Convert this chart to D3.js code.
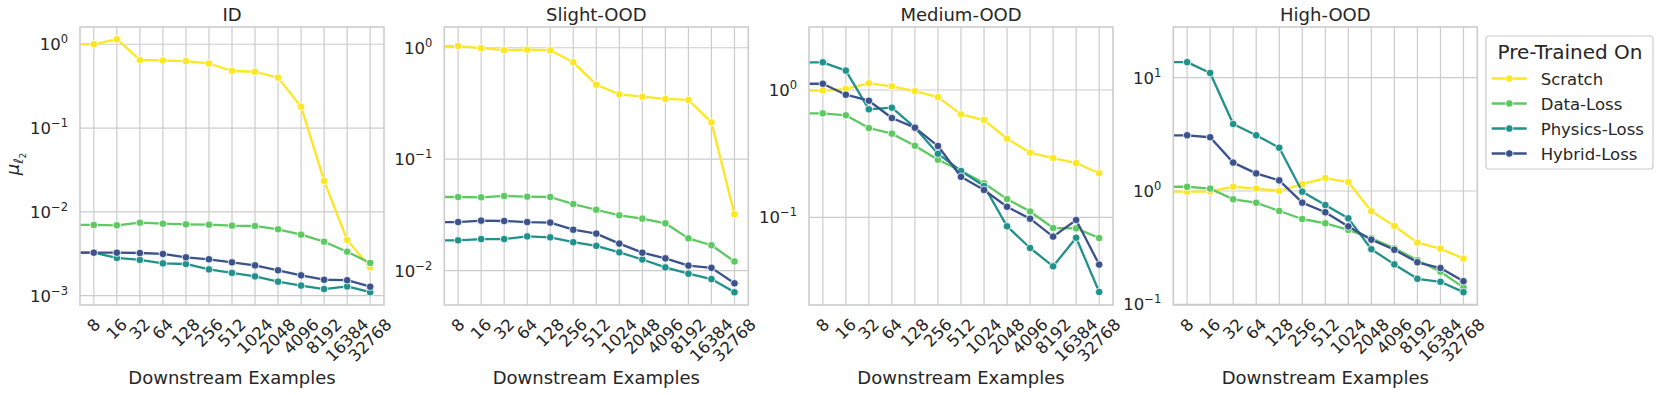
<!DOCTYPE html>
<html>
<head>
<meta charset="utf-8">
<script src="https://cdn.jsdelivr.net/npm/d3@7"></script>
<style>
  body { margin: 0; background: #fff; }
  text { font-family: "DejaVu Sans", sans-serif; fill: #262626; }
</style>
</head>
<body>
<svg id="chart" width="1661" height="395"></svg>
<script>
// first category sits just left of the visible x range (line runs off the edge)
const xCats = ["4", "8", "16", "32", "64", "128", "256", "512", "1024", "2048", "4096", "8192", "16384", "32768"];
const tickCats = xCats.slice(1);

const seriesNames = ["Scratch", "Data-Loss", "Physics-Loss", "Hybrid-Loss"];
const seriesColors = ["#fde725", "#5ec962", "#21918c", "#3b528b"];
const panelTitles = ["ID", "Slight-OOD", "Medium-OOD", "High-OOD"];

// log10 limits of each y axis and the decades that get a tick
const yExtents = [[-3.111, 0.206], [-2.308, 0.186], [-1.689, 0.495], [-1.006, 1.447]];
const yTickExps = [[-3, -2, -1, 0], [-2, -1, 0], [-1, 0], [-1, 0, 1]];

const idScratch = [1.0, 1.0, 1.15, 0.65, 0.64, 0.63, 0.59, 0.48, 0.47, 0.40, 0.18, 0.0234, 0.00462, 0.00218];
const idData    = [0.00698, 0.00698, 0.00692, 0.00743, 0.00723, 0.0071, 0.00704, 0.00685, 0.00679, 0.0062, 0.00535, 0.00441, 0.00335, 0.00246];
const idPhysics = [0.00326, 0.00326, 0.00282, 0.00267, 0.00243, 0.00239, 0.00206, 0.00187, 0.0017, 0.00147, 0.00132, 0.0012, 0.00129, 0.0011];
const idHybrid  = [0.00326, 0.00326, 0.00326, 0.00323, 0.00315, 0.00287, 0.00272, 0.0025, 0.0023, 0.00201, 0.00175, 0.00155, 0.00153, 0.00128];

const slightScratch = [1.035, 1.035, 0.99, 0.95, 0.96, 0.95, 0.74, 0.466, 0.382, 0.364, 0.347, 0.34, 0.214, 0.032];
const slightData    = [0.0458, 0.0458, 0.0455, 0.0468, 0.0461, 0.0458, 0.0396, 0.0352, 0.0314, 0.0293, 0.0266, 0.0195, 0.0169, 0.0121];
const slightPhysics = [0.0187, 0.0187, 0.0192, 0.0192, 0.0203, 0.0199, 0.0180, 0.0167, 0.0146, 0.0126, 0.0107, 0.0094, 0.0084, 0.0064];
const slightHybrid  = [0.0273, 0.0273, 0.0281, 0.0279, 0.0273, 0.0270, 0.0233, 0.0215, 0.0175, 0.0145, 0.0129, 0.0111, 0.0106, 0.0077];

const mediumScratch = [0.99, 0.99, 1.02, 1.13, 1.07, 0.98, 0.88, 0.644, 0.581, 0.415, 0.322, 0.292, 0.267, 0.222];
const mediumData    = [0.656, 0.656, 0.633, 0.503, 0.454, 0.365, 0.283, 0.232, 0.185, 0.139, 0.111, 0.0824, 0.0819, 0.0687];
const mediumPhysics = [1.65, 1.65, 1.42, 0.705, 0.726, 0.506, 0.316, 0.231, 0.176, 0.0849, 0.0574, 0.0412, 0.0691, 0.0259];
const mediumHybrid  = [1.12, 1.12, 0.918, 0.824, 0.603, 0.506, 0.363, 0.208, 0.164, 0.121, 0.0975, 0.0705, 0.0953, 0.0425];

const highScratch = [0.986, 0.986, 0.99, 1.09, 1.05, 1.0, 1.15, 1.30, 1.20, 0.662, 0.491, 0.350, 0.310, 0.253];
const highData    = [1.09, 1.09, 1.05, 0.845, 0.788, 0.666, 0.566, 0.519, 0.453, 0.382, 0.312, 0.245, 0.194, 0.141];
const highPhysics = [13.7, 13.7, 11.0, 3.90, 3.10, 2.41, 0.986, 0.752, 0.574, 0.306, 0.225, 0.168, 0.158, 0.128];
const highHybrid  = [3.10, 3.10, 2.98, 1.78, 1.43, 1.24, 0.789, 0.649, 0.487, 0.372, 0.303, 0.235, 0.209, 0.160];

const panelSeries = [
  [idScratch, idData, idPhysics, idHybrid],
  [slightScratch, slightData, slightPhysics, slightHybrid],
  [mediumScratch, mediumData, mediumPhysics, mediumHybrid],
  [highScratch, highData, highPhysics, highHybrid]
];

const svg = d3.select("#chart");
const panelLefts = [80, 444.3, 809, 1173.3];
const panelW = 304, panelTop = 27, panelH = 278;
const gridColor = "#cccccc";

// categorical index -> x; index -1 is the off-axis point
const x = d3.scaleLinear().domain([-0.6, tickCats.length - 1 + 0.6]).range([0, panelW]);

panelTitles.forEach((title, p) => {
  const g = svg.append("g").attr("transform", `translate(${panelLefts[p]},${panelTop})`);
  const y = d3.scaleLog()
    .domain([Math.pow(10, yExtents[p][0]), Math.pow(10, yExtents[p][1])])
    .range([panelH, 0]);

  // grid
  g.append("g").selectAll("line").data(tickCats).enter().append("line")
    .attr("x1", (d, i) => x(i)).attr("x2", (d, i) => x(i))
    .attr("y1", 0).attr("y2", panelH)
    .attr("stroke", gridColor).attr("stroke-width", 1.2);
  g.append("g").selectAll("line").data(yTickExps[p]).enter().append("line")
    .attr("x1", 0).attr("x2", panelW)
    .attr("y1", e => y(Math.pow(10, e))).attr("y2", e => y(Math.pow(10, e)))
    .attr("stroke", gridColor).attr("stroke-width", 1.2);

  // y tick labels 10^e
  const yl = g.append("g").selectAll("text").data(yTickExps[p]).enter().append("text")
    .attr("x", -12).attr("y", e => y(Math.pow(10, e)) + 6)
    .attr("text-anchor", "end").style("font-size", "16.5px");
  yl.append("tspan").text("10");
  yl.append("tspan").attr("dy", -7).style("font-size", "11.5px")
    .text(e => e < 0 ? "\u2212" + (-e) : String(e));

  // x tick labels, rotated 45deg and centred under the tick
  g.append("g").selectAll("text").data(tickCats).enter().append("text")
    .text(d => d)
    .style("font-size", "16.5px")
    .attr("text-anchor", "middle")
    .attr("dominant-baseline", "central")
    .each(function (d, i) {
      const w = this.getComputedTextLength();
      const cy = panelH + 10 + (w + 19) * 0.3536;
      d3.select(this).attr("transform", `translate(${x(i)},${cy}) rotate(-45)`);
    });

  // series
  const clipId = `clip${p}`;
  g.append("clipPath").attr("id", clipId).append("rect")
    .attr("width", panelW).attr("height", panelH);
  const plot = g.append("g").attr("clip-path", `url(#${clipId})`);
  const line = d3.line().x(d => x(d.i)).y(d => y(d.v));
  panelSeries[p].forEach((vals, s) => {
    const pts = vals.map((v, k) => ({ i: k - 1, v: v }));
    plot.append("path").datum(pts)
      .attr("d", line).attr("fill", "none")
      .attr("stroke", seriesColors[s]).attr("stroke-width", 2.3)
      .attr("stroke-linejoin", "round");
    plot.append("g").selectAll("circle").data(pts).enter().append("circle")
      .attr("cx", d => x(d.i)).attr("cy", d => y(d.v)).attr("r", 3.8)
      .attr("fill", seriesColors[s]).attr("stroke", "#fff").attr("stroke-width", 0.8);
  });

  // frame
  g.append("rect").attr("width", panelW).attr("height", panelH)
    .attr("fill", "none").attr("stroke", gridColor).attr("stroke-width", 1.6);

  g.append("text").attr("x", panelW / 2).attr("y", -6)
    .attr("text-anchor", "middle").style("font-size", "18px").text(title);
  g.append("text").attr("x", panelW / 2).attr("y", 357)
    .attr("text-anchor", "middle").style("font-size", "18px").text("Downstream Examples");
});

// y axis label
const ylab = svg.append("text").attr("transform", "translate(19,164) rotate(-90)")
  .attr("text-anchor", "middle").style("font-size", "18px");
ylab.append("tspan").style("font-style", "italic").text("\u03bc");
ylab.append("tspan").attr("dy", 4).style("font-size", "13px").style("font-style", "italic").text("\u2113");
ylab.append("tspan").attr("dy", 3).style("font-size", "9px").text("2");

// legend
const lg = svg.append("g").attr("transform", "translate(1486,36)");
lg.append("rect").attr("width", 167).attr("height", 133).attr("rx", 3)
  .attr("fill", "#fff").attr("stroke", gridColor).attr("stroke-width", 1.2);
lg.append("text").attr("x", 84).attr("y", 23).attr("text-anchor", "middle")
  .style("font-size", "20px").text("Pre-Trained On");
seriesNames.forEach((name, s) => {
  const cy = 42.5 + 25 * s;
  lg.append("line").attr("x1", 5.7).attr("x2", 40.7).attr("y1", cy).attr("y2", cy)
    .attr("stroke", seriesColors[s]).attr("stroke-width", 2.3);
  lg.append("circle").attr("cx", 23.3).attr("cy", cy).attr("r", 3.8)
    .attr("fill", seriesColors[s]).attr("stroke", "#fff").attr("stroke-width", 0.8);
  lg.append("text").attr("x", 54.7).attr("y", cy + 6).style("font-size", "16.5px").text(name);
});
</script>
</body>
</html>
